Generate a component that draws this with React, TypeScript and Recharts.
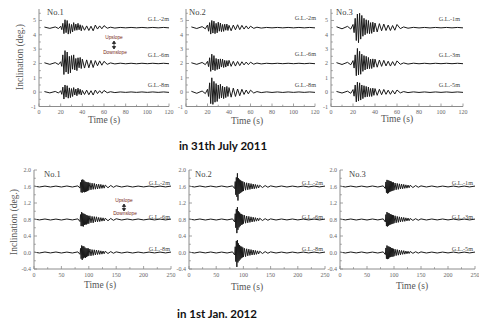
import { LineChart, Line, XAxis, YAxis } from "recharts";

// sample times (s)
const TIME_2011 = [5, 10, 15, 18, 20, 21, 22, 23, 24, 25, 26, 27, 28, 29, 30, 31, 32, 33, 34, 35, 36, 37, 38, 39, 40, 42, 44, 46, 48, 50, 52, 54, 56, 58, 60, 63, 66, 70, 75, 80, 85, 90, 95, 100, 105, 110, 115, 120];
const TIME_2012 = [0, 10, 20, 30, 40, 50, 60, 70, 80, 84, 85, 86, 87, 88, 89, 90, 91, 92, 93, 94, 95, 96, 97, 98, 99, 100, 102, 104, 106, 108, 110, 112, 114, 116, 118, 120, 122, 124, 126, 128, 130, 135, 140, 145, 150, 160, 170, 180, 190, 200, 210, 220, 230, 240, 250];

// 31 July 2011, deviation from trace baseline (deg.)
const JUL_NO1_GL2 = [0.04, -0.05, 0.05, -0.06, 0.1, -0.14, 0.3, -0.42, 0.55, -0.35, 0.5, -0.45, 0.28, -0.4, 0.22, -0.3, 0.35, -0.2, 0.25, -0.18, 0.3, -0.15, 0.2, -0.22, 0.14, -0.18, 0.12, -0.2, 0.1, -0.22, 0.18, -0.1, 0.12, -0.08, 0.14, -0.04, 0.03, -0.03, 0.015, -0.015, 0.015, -0.015, 0.015, -0.015, 0.015, -0.015, 0.015, -0.015];
const JUL_NO1_GL6 = [0.05, -0.06, 0.06, -0.07, 0.12, -0.2, 0.6, -0.77, 0.9, -0.6, 0.8, -0.72, 0.5, -0.65, 0.55, -0.4, 0.6, -0.45, 0.35, -0.5, 0.4, -0.3, 0.42, -0.35, 0.3, -0.32, 0.25, -0.3, 0.22, -0.28, 0.2, -0.16, 0.18, -0.12, 0.15, -0.06, 0.04, -0.03, 0.02, -0.02, 0.015, -0.02, 0.015, -0.015, 0.015, -0.015, 0.015, -0.015];
const JUL_NO1_GL8 = [0.04, -0.05, 0.05, -0.06, 0.1, -0.15, 0.35, -0.48, 0.5, -0.35, 0.45, -0.42, 0.3, -0.38, 0.25, -0.3, 0.32, -0.2, 0.22, -0.25, 0.28, -0.15, 0.2, -0.2, 0.12, -0.16, 0.14, -0.18, 0.1, -0.2, 0.15, -0.1, 0.1, -0.08, 0.12, -0.04, 0.03, -0.03, 0.015, -0.015, 0.015, -0.015, 0.015, -0.015, 0.015, -0.015, 0.015, -0.015];
const JUL_NO2_GL2 = [0.05, -0.06, 0.07, -0.08, 0.18, -0.25, 0.35, -0.45, 0.5, -0.38, 0.45, -0.42, 0.3, -0.36, 0.38, -0.25, 0.32, -0.28, 0.22, -0.26, 0.24, -0.18, 0.25, -0.2, 0.16, -0.22, 0.18, -0.15, 0.2, -0.14, 0.16, -0.1, 0.12, -0.09, 0.1, -0.05, 0.03, -0.03, 0.015, -0.015, 0.015, -0.015, 0.015, -0.015, 0.015, -0.015, 0.015, -0.015];
const JUL_NO2_GL6 = [0.05, -0.06, 0.07, -0.08, 0.15, -0.22, 0.4, -0.55, 0.65, -0.45, 0.55, -0.5, 0.35, -0.42, 0.3, -0.38, 0.32, -0.25, 0.3, -0.28, 0.22, -0.25, 0.2, -0.18, 0.22, -0.2, 0.15, -0.18, 0.14, -0.15, 0.12, -0.1, 0.1, -0.08, 0.09, -0.05, 0.03, -0.03, 0.015, -0.015, 0.015, -0.015, 0.015, -0.015, 0.015, -0.015, 0.015, -0.015];
const JUL_NO2_GL8 = [0.06, -0.08, 0.08, -0.1, 0.2, -0.3, 0.65, -0.8, 1.0, -0.85, 0.75, -0.7, 0.6, -0.65, 0.5, -0.45, 0.55, -0.4, 0.42, -0.45, 0.35, -0.38, 0.4, -0.3, 0.32, -0.35, 0.28, -0.3, 0.22, -0.25, 0.2, -0.16, 0.15, -0.12, 0.14, -0.06, 0.04, -0.03, 0.02, -0.02, 0.015, -0.02, 0.015, -0.015, 0.015, -0.015, 0.015, -0.015];
const JUL_NO3_GL1 = [0.06, -0.08, 0.09, -0.1, 0.22, -0.35, 0.65, -0.9, 0.95, -1.05, 1.0, -0.8, 0.85, -0.6, 0.65, -0.5, 0.55, -0.4, 0.5, -0.42, 0.35, -0.4, 0.38, -0.3, 0.32, -0.3, 0.28, -0.22, 0.25, -0.2, 0.18, -0.2, 0.15, -0.18, 0.22, -0.07, 0.05, -0.04, 0.02, -0.02, 0.015, -0.02, 0.015, -0.015, 0.015, -0.015, 0.015, -0.015];
const JUL_NO3_GL3 = [0.06, -0.07, 0.08, -0.09, 0.2, -0.32, 0.6, -0.85, 1.05, -0.8, 0.85, -0.75, 0.65, -0.55, 0.55, -0.45, 0.5, -0.38, 0.42, -0.36, 0.3, -0.35, 0.32, -0.26, 0.3, -0.26, 0.24, -0.2, 0.22, -0.17, 0.16, -0.18, 0.13, -0.15, 0.18, -0.06, 0.04, -0.04, 0.02, -0.02, 0.015, -0.02, 0.015, -0.015, 0.015, -0.015, 0.015, -0.015];
const JUL_NO3_GL5 = [0.05, -0.06, 0.07, -0.08, 0.18, -0.28, 0.5, -0.68, 0.7, -0.62, 0.65, -0.55, 0.5, -0.45, 0.45, -0.35, 0.4, -0.32, 0.36, -0.3, 0.26, -0.3, 0.28, -0.22, 0.25, -0.22, 0.2, -0.18, 0.19, -0.15, 0.14, -0.15, 0.12, -0.13, 0.15, -0.05, 0.04, -0.03, 0.02, -0.02, 0.015, -0.02, 0.015, -0.015, 0.015, -0.015, 0.015, -0.015];

// 1 Jan 2012
const JAN_NO1_GL2 = [0.01, -0.012, 0.01, -0.012, 0.01, -0.012, 0.012, -0.012, 0.015, -0.04, 0.1, -0.14, 0.16, -0.15, 0.17, -0.13, 0.15, -0.14, 0.12, -0.13, 0.11, -0.12, 0.1, -0.11, 0.1, -0.09, 0.09, -0.08, 0.08, -0.07, 0.075, -0.065, 0.06, -0.06, 0.055, -0.05, 0.05, -0.045, 0.04, -0.04, 0.035, -0.03, 0.025, -0.02, 0.018, -0.012, 0.012, -0.012, 0.01, -0.01, 0.01, -0.01, 0.01, -0.01, 0.01];
const JAN_NO1_GL6 = [0.012, -0.01, 0.012, -0.012, 0.01, -0.012, 0.012, -0.01, 0.015, -0.05, 0.12, -0.16, 0.18, -0.16, 0.15, -0.17, 0.14, -0.13, 0.13, -0.12, 0.11, -0.12, 0.1, -0.1, 0.09, -0.1, 0.09, -0.08, 0.075, -0.08, 0.07, -0.06, 0.065, -0.055, 0.05, -0.05, 0.045, -0.04, 0.04, -0.035, 0.03, -0.03, 0.025, -0.02, 0.018, -0.012, 0.012, -0.01, 0.012, -0.01, 0.01, -0.01, 0.01, -0.01, 0.01];
const JAN_NO1_GL8 = [0.01, -0.012, 0.012, -0.01, 0.012, -0.012, 0.01, -0.012, 0.015, -0.045, 0.1, -0.15, 0.17, -0.18, 0.15, -0.14, 0.15, -0.12, 0.12, -0.13, 0.1, -0.11, 0.1, -0.09, 0.1, -0.08, 0.085, -0.08, 0.07, -0.07, 0.065, -0.06, 0.06, -0.05, 0.05, -0.045, 0.04, -0.04, 0.035, -0.03, 0.03, -0.025, 0.022, -0.018, 0.015, -0.012, 0.01, -0.012, 0.01, -0.01, 0.01, -0.01, 0.01, -0.01, 0.01];
const JAN_NO2_GL2 = [0.01, -0.012, 0.012, -0.012, 0.01, -0.012, 0.012, -0.012, 0.015, -0.05, 0.12, -0.2, 0.22, -0.25, 0.32, -0.34, 0.2, -0.18, 0.17, -0.16, 0.15, -0.14, 0.13, -0.12, 0.12, -0.11, 0.1, -0.09, 0.09, -0.08, 0.08, -0.07, 0.07, -0.06, 0.06, -0.055, 0.05, -0.045, 0.04, -0.035, 0.03, -0.025, 0.022, -0.018, 0.015, -0.012, 0.012, -0.012, 0.01, -0.01, 0.01, -0.01, 0.01, -0.01, 0.01];
const JAN_NO2_GL6 = [0.012, -0.01, 0.012, -0.012, 0.01, -0.012, 0.012, -0.01, 0.015, -0.06, 0.14, -0.2, 0.25, -0.33, 0.3, -0.25, 0.2, -0.19, 0.17, -0.16, 0.14, -0.13, 0.13, -0.12, 0.11, -0.1, 0.1, -0.09, 0.085, -0.08, 0.075, -0.07, 0.065, -0.06, 0.055, -0.05, 0.045, -0.04, 0.035, -0.03, 0.03, -0.025, 0.02, -0.018, 0.015, -0.012, 0.012, -0.01, 0.012, -0.01, 0.01, -0.01, 0.01, -0.01, 0.01];
const JAN_NO2_GL8 = [0.01, -0.012, 0.012, -0.01, 0.012, -0.012, 0.01, -0.012, 0.015, -0.06, 0.14, -0.22, 0.28, -0.35, 0.3, -0.24, 0.22, -0.2, 0.18, -0.17, 0.15, -0.14, 0.14, -0.12, 0.12, -0.11, 0.1, -0.1, 0.09, -0.08, 0.08, -0.07, 0.07, -0.06, 0.06, -0.055, 0.05, -0.045, 0.04, -0.035, 0.03, -0.025, 0.022, -0.018, 0.015, -0.012, 0.01, -0.012, 0.01, -0.01, 0.01, -0.01, 0.01, -0.01, 0.01];
const JAN_NO3_GL1 = [0.01, -0.012, 0.01, -0.012, 0.01, -0.012, 0.012, -0.012, 0.015, -0.05, 0.11, -0.15, 0.16, -0.17, 0.15, -0.16, 0.14, -0.13, 0.13, -0.12, 0.12, -0.11, 0.1, -0.1, 0.1, -0.09, 0.085, -0.08, 0.075, -0.07, 0.065, -0.06, 0.06, -0.055, 0.05, -0.045, 0.04, -0.04, 0.035, -0.03, 0.03, -0.025, 0.022, -0.018, 0.015, -0.012, 0.012, -0.012, 0.01, -0.01, 0.01, -0.01, 0.01, -0.01, 0.01];
const JAN_NO3_GL3 = [0.012, -0.01, 0.012, -0.012, 0.01, -0.012, 0.012, -0.01, 0.015, -0.06, 0.12, -0.16, 0.18, -0.17, 0.16, -0.15, 0.15, -0.13, 0.13, -0.12, 0.12, -0.11, 0.11, -0.1, 0.1, -0.09, 0.09, -0.08, 0.075, -0.07, 0.065, -0.06, 0.055, -0.05, 0.05, -0.045, 0.04, -0.035, 0.035, -0.03, 0.025, -0.022, 0.02, -0.018, 0.015, -0.012, 0.012, -0.01, 0.012, -0.01, 0.01, -0.01, 0.01, -0.01, 0.01];
const JAN_NO3_GL5 = [0.01, -0.012, 0.012, -0.01, 0.012, -0.012, 0.01, -0.012, 0.015, -0.05, 0.11, -0.15, 0.17, -0.16, 0.15, -0.15, 0.14, -0.12, 0.13, -0.11, 0.11, -0.1, 0.1, -0.1, 0.09, -0.09, 0.08, -0.075, 0.07, -0.065, 0.06, -0.055, 0.05, -0.045, 0.045, -0.04, 0.035, -0.03, 0.03, -0.025, 0.025, -0.02, 0.018, -0.015, 0.015, -0.012, 0.01, -0.012, 0.01, -0.01, 0.01, -0.01, 0.01, -0.01, 0.01];

// trace baselines
const BASES_2011 = [4.5, 2, 0];
const BASES_2012 = [1.6, 0.8, 0];

// axes
const X_TICKS_2011 = [0, 10, 20, 30, 40, 50, 60, 70, 80, 90, 100, 110, 120];
const X_LABELS_2011 = [0, 20, 40, 60, 80, 100, 120];
const Y_TICKS_2011 = [-1, -0.5, 0, 0.5, 1, 1.5, 2, 2.5, 3, 3.5, 4, 4.5, 5, 5.5];
const Y_LABELS_2011 = [-1, 0, 1, 2, 3, 4, 5];
const X_TICKS_2012 = [0, 25, 50, 75, 100, 125, 150, 175, 200, 225, 250];
const X_LABELS_2012 = [0, 50, 100, 150, 200, 250];
const Y_TICKS_2012 = [-0.4, -0.2, 0, 0.2, 0.4, 0.6, 0.8, 1.0, 1.2, 1.4, 1.6, 1.8, 2.0];
const Y_LABELS_2012 = [-0.4, 0, 0.4, 0.8, 1.2, 1.6, 2.0];

const AXIS = "#8c8c8c";
const INK = "#1a1a1a";
const LABEL = "#555";
const SERIF = "'Liberation Serif', 'DejaVu Serif', serif";
const serif = { fontFamily: SERIF };

type PanelProps = {
  left: number;
  top: number;
  width: number;
  height: number;
  time: number[];
  series: number[][];
  bases: number[];
  xDomain: [number, number];
  xTicks: number[];
  xLabels: number[];
  yDomain: [number, number];
  yTicks: number[];
  yLabels: number[];
  yFmt: (v: number) => string;
};

function Panel(p: PanelProps) {
  const data = p.time.map((t, i) => {
    const row: Record<string, number> = { t };
    p.series.forEach((s, k) => {
      row["s" + k] = p.bases[k] + s[i];
    });
    return row;
  });
  const axisX = 30;
  const axisY = 10 + p.height;
  const near = (list: number[], v: number) => list.some((l) => Math.abs(l - v) < 1e-6);

  const xTick = (props: any) => {
    const v = props.payload.value;
    const x = props.x;
    const major = near(p.xLabels, v);
    return (
      <g>
        <line x1={x} x2={x} y1={axisY} y2={axisY - (major ? 3 : 1.8)} stroke={AXIS} strokeWidth={0.8} />
        {major && (
          <text x={x} y={axisY + 7.5} textAnchor="middle" fontSize={6} fill="#666" style={serif}>
            {v}
          </text>
        )}
      </g>
    );
  };
  const yTick = (props: any) => {
    const v = props.payload.value;
    const y = props.y;
    const major = near(p.yLabels, v);
    return (
      <g>
        <line x1={axisX} x2={axisX + (major ? 3 : 1.8)} y1={y} y2={y} stroke={AXIS} strokeWidth={0.8} />
        {major && (
          <text x={axisX - 3} y={y + 2} textAnchor="end" fontSize={6} fill="#666" style={serif}>
            {p.yFmt(v)}
          </text>
        )}
      </g>
    );
  };

  return (
    <div style={{ position: "absolute", left: p.left - 30, top: p.top - 10 }}>
      <LineChart width={p.width + 40} height={p.height + 30} data={data} margin={{ top: 10, right: 10, left: 0, bottom: 0 }}>
        <XAxis dataKey="t" type="number" domain={p.xDomain} ticks={p.xTicks} interval={0} tick={xTick} tickLine={false} stroke={AXIS} height={20} allowDataOverflow />
        <YAxis type="number" domain={p.yDomain} ticks={p.yTicks} interval={0} tick={yTick} tickLine={false} stroke={AXIS} width={30} allowDataOverflow />
        {p.series.map((_, k) => (
          <Line key={k} type="linear" dataKey={"s" + k} stroke={INK} strokeWidth={1} dot={false} isAnimationActive={false} />
        ))}
      </LineChart>
    </div>
  );
}

const top2011 = {
  top: 8.5,
  height: 97.5,
  time: TIME_2011,
  bases: BASES_2011,
  xDomain: [0, 120] as [number, number],
  xTicks: X_TICKS_2011,
  xLabels: X_LABELS_2011,
  yDomain: [-1, 5.8] as [number, number],
  yTicks: Y_TICKS_2011,
  yLabels: Y_LABELS_2011,
  yFmt: (v: number) => String(v),
};

const bottom2012 = {
  top: 170,
  height: 99,
  time: TIME_2012,
  bases: BASES_2012,
  xDomain: [0, 250] as [number, number],
  xTicks: X_TICKS_2012,
  xLabels: X_LABELS_2012,
  yDomain: [-0.4, 2.0] as [number, number],
  yTicks: Y_TICKS_2012,
  yLabels: Y_LABELS_2012,
  yFmt: (v: number) => v.toFixed(1),
};

function Arrow({ x, y1, y2 }: { x: number; y1: number; y2: number }) {
  return (
    <g stroke="#222" fill="#222" strokeWidth={0.8}>
      <line x1={x} x2={x} y1={y1 + 2} y2={y2 - 2} />
      <path d={`M${x - 1.6},${y1 + 2.5} L${x},${y1} L${x + 1.6},${y1 + 2.5} Z`} />
      <path d={`M${x - 1.6},${y2 - 2.5} L${x},${y2} L${x + 1.6},${y2 - 2.5} Z`} />
    </g>
  );
}

export default function App() {
  const gl = (x: number, y: number, t: string) => (
    <text x={x} y={y} textAnchor="end" fontSize={6.2} fill="#444" style={serif}>
      {t}
    </text>
  );
  const name = (x: number, y: number, t: string) => (
    <text x={x} y={y} fontSize={8.5} fill="#444" style={serif}>
      {t}
    </text>
  );
  const time = (x: number, y: number) => (
    <text x={x} y={y} textAnchor="middle" fontSize={9.5} fill={LABEL} style={serif}>
      Time (s)
    </text>
  );
  const slope = "#7a2a18";
  const sans = { fontFamily: "'Liberation Sans', sans-serif" };
  const bold = { fontFamily: "Lato, 'Open Sans', sans-serif" };
  return (
    <div style={{ position: "absolute", left: 0, top: 0, width: 479, height: 323, background: "#fff", overflow: "hidden" }}>
      <Panel left={39} width={130} series={[JUL_NO1_GL2, JUL_NO1_GL6, JUL_NO1_GL8]} {...top2011} />
      <Panel left={186} width={129} series={[JUL_NO2_GL2, JUL_NO2_GL6, JUL_NO2_GL8]} {...top2011} />
      <Panel left={331} width={132} series={[JUL_NO3_GL1, JUL_NO3_GL3, JUL_NO3_GL5]} {...top2011} />
      <Panel left={34} width={137} series={[JAN_NO1_GL2, JAN_NO1_GL6, JAN_NO1_GL8]} {...bottom2012} />
      <Panel left={189} width={136} series={[JAN_NO2_GL2, JAN_NO2_GL6, JAN_NO2_GL8]} {...bottom2012} />
      <Panel left={340} width={135} series={[JAN_NO3_GL1, JAN_NO3_GL3, JAN_NO3_GL5]} {...bottom2012} />
      <svg width={479} height={323} style={{ position: "absolute", left: 0, top: 0, pointerEvents: "none" }}>
        <text transform="translate(23,57) rotate(-90)" textAnchor="middle" fontSize={9.5} fill={LABEL} style={serif}>
          Inclination  (deg.)
        </text>
        <text transform="translate(17,222) rotate(-90)" textAnchor="middle" fontSize={9.5} fill={LABEL} style={serif}>
          Inclination  (deg.)
        </text>

        {name(47, 15, "No.1")}
        {name(189, 15, "No.2")}
        {name(336, 15, "No.3")}
        {name(44, 177, "No.1")}
        {name(195, 177, "No.2")}
        {name(349, 177, "No.3")}

        {gl(169, 21, "G.L.-2m")}
        {gl(169, 57, "G.L.-6m")}
        {gl(169, 87, "G.L.-8m")}
        {gl(316, 20, "G.L.-2m")}
        {gl(316, 56, "G.L.-6m")}
        {gl(316, 87, "G.L.-8m")}
        {gl(460, 21, "G.L.-1m")}
        {gl(460, 57, "G.L.-3m")}
        {gl(460, 87, "G.L.-5m")}
        {gl(170, 185, "G.L.-2m")}
        {gl(170, 219, "G.L.-6m")}
        {gl(170, 251, "G.L.-8m")}
        {gl(323, 185, "G.L.-2m")}
        {gl(323, 219, "G.L.-6m")}
        {gl(323, 251, "G.L.-8m")}
        {gl(473, 185, "G.L.-1m")}
        {gl(473, 219, "G.L.-3m")}
        {gl(473, 251, "G.L.-5m")}

        <text x={114} y={39} textAnchor="middle" fontSize={4.8} fill={slope} style={sans}>Upslope</text>
        <Arrow x={114} y1={41} y2={49} />
        <text x={115} y={54} textAnchor="middle" fontSize={4.8} fill={slope} style={sans}>Downslope</text>
        <text x={124} y={202} textAnchor="middle" fontSize={4.8} fill={slope} style={sans}>Upslope</text>
        <Arrow x={124} y1={204} y2={211} />
        <text x={125} y={215} textAnchor="middle" fontSize={4.8} fill={slope} style={sans}>Downslope</text>

        {time(104, 122.5)}
        {time(247, 123.5)}
        {time(397, 122)}
        {time(100, 288)}
        {time(247, 290)}
        {time(412, 289)}

        <text x={223} y={150} textAnchor="middle" fontSize={11.5} fontWeight="bold" fill="#111" style={bold}>
          in 31th July 2011
        </text>
        <text x={217} y={318} textAnchor="middle" fontSize={11.5} fontWeight="bold" fill="#111" style={bold}>
          in 1st Jan. 2012
        </text>
      </svg>
    </div>
  );
}
